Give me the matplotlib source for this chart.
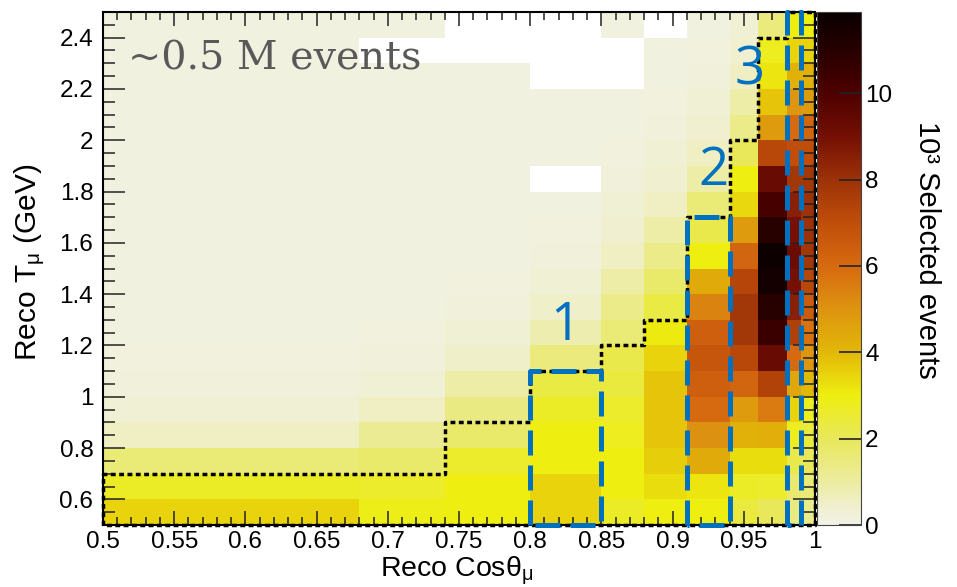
import numpy as np
import matplotlib
matplotlib.use('Agg')
import matplotlib.pyplot as plt
from matplotlib.colors import LinearSegmentedColormap
from matplotlib.ticker import MultipleLocator, FormatStrFormatter

plt.rcParams['font.family'] = 'Liberation Sans'
plt.rcParams['mathtext.fontset'] = 'custom'
plt.rcParams['mathtext.rm'] = 'Liberation Sans'
plt.rcParams['mathtext.it'] = 'Liberation Sans'
plt.rcParams['mathtext.default'] = 'rm'

# bin edges
cos_edges = [0.5, 0.68, 0.74, 0.80, 0.85, 0.88, 0.91, 0.94, 0.96, 0.98, 0.99, 1.0]
t_edges = [0.5, 0.6, 0.7, 0.8, 0.9, 1.0, 1.1, 1.2, 1.3, 1.4, 1.5,
           1.6, 1.7, 1.8, 1.9, 2.0, 2.1, 2.2, 2.3, 2.4, 2.5]

# selected events (x10^3) per cos bin, T from 0.5 GeV upward; 0 = empty bin
c_050 = [3.5, 2.7, 1.6, 0.6, 0.3, 0.2, 0.15, 0.1, 0.1, 0.1, 0.1, 0.1, 0.1, 0.1, 0.1, 0.1, 0.1, 0.1, 0.1, 0.1]
c_068 = [2.9, 2.6, 1.8, 1.2, 0.6, 0.3, 0.2, 0.15, 0.1, 0.1, 0.1, 0.1, 0.1, 0.1, 0.1, 0.1, 0.1, 0.1, 0, 0.1]
c_074 = [3.0, 3.0, 2.6, 1.8, 1.4, 0.9, 0.5, 0.3, 0.2, 0.15, 0.1, 0.1, 0.1, 0.1, 0.1, 0.1, 0.1, 0.1, 0, 0]
c_080 = [3.5, 3.5, 3.0, 3.0, 2.7, 2.3, 1.5, 0.8, 0.5, 0.3, 0.2, 0.15, 0.1, 0, 0.1, 0.1, 0.1, 0, 0, 0]
c_085 = [2.7, 3.0, 3.0, 2.8, 2.6, 2.4, 2.2, 1.6, 1.3, 0.9, 0.6, 0.4, 0.3, 0.2, 0.15, 0.1, 0.1, 0, 0, 0.1]
c_088 = [3.0, 3.3, 3.6, 3.8, 3.8, 3.8, 3.5, 3.1, 2.3, 1.8, 1.3, 0.9, 0.6, 0.4, 0.3, 0.2, 0.15, 0.1, 0.1, 0]
c_091 = [3.0, 3.2, 4.4, 5.1, 6.0, 6.4, 6.7, 6.4, 5.4, 4.4, 3.0, 2.2, 1.6, 0.9, 0.6, 0.4, 0.3, 0.2, 0.15, 0.1]
c_094 = [2.4, 2.7, 3.3, 4.2, 4.8, 6.2, 7.2, 7.8, 7.8, 7.3, 6.2, 4.8, 3.4, 3.0, 2.0, 1.3, 0.9, 0.6, 0.4, 0.3]
c_096 = [2.0, 2.6, 3.3, 4.3, 5.6, 7.4, 9.3, 10.5, 11.0, 11.6, 11.8, 11.0, 10.2, 9.3, 7.2, 4.8, 3.8, 3.2, 2.8, 1.5]
c_098 = [1.4, 1.7, 2.2, 2.8, 3.5, 4.5, 6.0, 7.5, 8.5, 9.0, 9.2, 9.0, 8.5, 7.8, 7.0, 6.0, 5.0, 4.2, 3.5, 3.0]
c_099 = [1.3, 1.6, 2.0, 2.4, 2.8, 4.0, 5.0, 5.8, 6.5, 7.2, 7.8, 8.0, 8.0, 7.8, 7.0, 6.2, 4.8, 4.2, 3.5, 3.0]

# selection cut: upper T edge per cos bin (dotted line)
cut_cos = [0.5, 0.74, 0.80, 0.85, 0.88, 0.91, 0.94, 0.96, 0.98, 1.0]
cut_t = [0.7, 0.9, 1.1, 1.2, 1.3, 1.7, 2.0, 2.4, 2.5]

# highlighted regions: (cos low, cos high, T top)
boxes = [(0.80, 0.85, 1.1), (0.91, 0.94, 1.7), (0.98, 0.99, 2.5)]
box_labels = ['1', '2', '3']
box_label_pos = [(0.825, 1.276), (0.929, 1.88), (0.954, 2.27)]

z = np.array([c_050, c_068, c_074, c_080, c_085, c_088, c_091,
              c_094, c_096, c_098, c_099]).T
z = np.ma.masked_equal(z, 0)

cmap = LinearSegmentedColormap.from_list('body', [
    (0.0, '#F2F2E6'), (0.5 / 11.88, '#EFEFC8'), (1 / 11.88, '#ECEC9E'),
    (2 / 11.88, '#E8E85A'), (3 / 11.88, '#EEEE10'), (4 / 11.88, '#E2B808'),
    (5 / 11.88, '#DE9410'), (6 / 11.88, '#D66A10'), (7 / 11.88, '#C04E0A'),
    (8 / 11.88, '#9C3208'), (9 / 11.88, '#741004'), (10 / 11.88, '#4E0000'),
    (11 / 11.88, '#280000'), (1.0, '#0A0000')])

fig = plt.figure(figsize=(9.57, 5.87), dpi=100)
ax = fig.add_axes([103 / 957, 62 / 587, 712 / 957, 513 / 587])
mesh = ax.pcolormesh(cos_edges, t_edges, z, cmap=cmap, vmin=0, vmax=11.88)

# dotted selection contour
px = [0.5]
py = [0.5]
for i in range(len(cut_t)):
    px += [cut_cos[i], cut_cos[i + 1]]
    py += [cut_t[i], cut_t[i]]
px += [1.0, 0.5]
py += [0.5, 0.5]
ax.plot(px, py, color='black', lw=2.5, linestyle=(0, (1.4, 1.0)),
        clip_on=False, zorder=3)

for (x0, x1, top), lab, (lx, ly) in zip(boxes, box_labels, box_label_pos):
    ax.plot([x0, x0, x1, x1, x0], [0.5, top, top, 0.5, 0.5], color='#0070C0',
            lw=3.6, linestyle=(0, (5, 2)), clip_on=False, zorder=4)
    ax.text(lx, ly, lab, color='#0070C0', fontsize=38, family='Open Sans',
            ha='center', va='center', zorder=5)

ax.text(0.5176, 2.274, '~0.5 M events', family='DejaVu Serif', fontsize=28.5,
        color='#595959', ha='left', va='baseline', zorder=5)

ax.set_xlim(0.5, 1.0)
ax.set_ylim(0.5, 2.5)
ax.xaxis.set_major_locator(MultipleLocator(0.05))
ax.xaxis.set_minor_locator(MultipleLocator(0.01))
ax.yaxis.set_major_locator(MultipleLocator(0.2))
ax.yaxis.set_minor_locator(MultipleLocator(0.05))
ax.xaxis.set_major_formatter(FormatStrFormatter('%g'))
ax.yaxis.set_major_formatter(FormatStrFormatter('%g'))
ax.tick_params(which='both', direction='in', top=True, right=True,
               labelsize=17.5, width=1.1, color='#222222')
ax.tick_params(axis='x', which='major', length=10, pad=4)
ax.tick_params(axis='x', which='minor', length=5.5)
ax.tick_params(axis='y', which='major', length=16, pad=7)
ax.tick_params(axis='y', which='minor', length=8.5)
for s in ax.spines.values():
    s.set_linewidth(1.5)
    s.set_zorder(2)

ax.set_xlabel(r'Reco Cos$\theta_{\mu}$', fontsize=20.5)
ax.xaxis.set_label_coords(0.497, -0.058)
ax.set_ylabel(r'Reco T$_{\mu}$ (GeV)', fontsize=21.5)
ax.yaxis.set_label_coords(-0.078, 0.513)

cax = fig.add_axes([817 / 957, 62 / 587, 44 / 957, 513 / 587])
cb = fig.colorbar(mesh, cax=cax, ticks=[0, 2, 4, 6, 8, 10])
cb.ax.tick_params(direction='in', length=16, width=1.2, labelsize=17.5,
                  pad=3, color='#222222')
cb.outline.set_linewidth(0.8)
cb.outline.set_edgecolor('#444444')
fig.text(927 / 957, 1 - 250 / 587, '10³ Selected events', rotation=270,
         fontsize=21, ha='center', va='center')

fig.savefig('out.png', dpi=100)
